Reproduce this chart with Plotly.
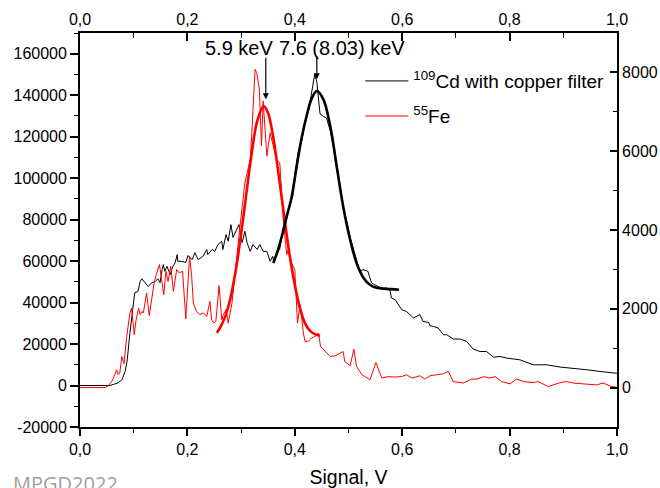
import plotly.graph_objects as go

# ---------------- data ----------------
cd_x = [0.000, 0.047, 0.056, 0.071, 0.078, 0.084, 0.088, 0.093, 0.097, 0.099, 0.102, 0.108,
        0.112, 0.115, 0.121, 0.127, 0.134, 0.140, 0.145, 0.149, 0.153, 0.155, 0.158, 0.162,
        0.168, 0.173, 0.177, 0.181, 0.182, 0.190, 0.197, 0.201, 0.209, 0.214, 0.220, 0.229,
        0.236, 0.238, 0.246, 0.251, 0.257, 0.264, 0.266, 0.272, 0.276, 0.281, 0.285, 0.292,
        0.296, 0.302, 0.307, 0.311, 0.317, 0.322, 0.330, 0.335, 0.341, 0.348, 0.354, 0.359,
        0.361, 0.366, 0.372, 0.379, 0.385, 0.391, 0.396, 0.401, 0.407, 0.413, 0.420, 0.426,
        0.432, 0.437, 0.441, 0.447, 0.452, 0.459, 0.466, 0.472, 0.478, 0.484, 0.490, 0.497,
        0.503, 0.509, 0.515, 0.521, 0.527, 0.536, 0.543, 0.549, 0.557, 0.565, 0.571, 0.577,
        0.580, 0.587, 0.599, 0.608, 0.621, 0.633, 0.639, 0.649, 0.652, 0.658, 0.667, 0.677,
        0.683, 0.695, 0.708, 0.720, 0.732, 0.745, 0.757, 0.770, 0.782, 0.795, 0.819, 0.844,
        0.869, 0.894, 0.919, 0.944, 0.968, 0.993, 1.000]
cd_y = [0, 0, 0, 1300, 2750, 6800, 12400, 25500, 35100, 40600, 44800, 45400,
        50200, 51500, 49600, 47800, 49600, 50200, 51500, 49600, 55900, 58300, 55100, 57500,
        53500, 57500, 59100, 63100, 59900, 59900, 59300, 62700, 60700, 64100, 60700, 62300,
        65600, 63100, 65600, 64700, 68000, 69600, 65600, 72800, 69600, 77600, 71400, 75200,
        77600, 68900, 74400, 68900, 64700, 68000, 65600, 68000, 64700, 64700, 59900, 62300,
        59100, 63500, 66000, 76500, 80500, 88100, 91000, 103000, 113500, 118000, 128500, 133000,
        143500, 150000, 146500, 131000, 130000, 129000, 123000, 115000, 104000, 97000, 85500, 79000,
        71500, 65500, 60500, 55000, 55900, 55100, 49500, 48600, 47500, 47000, 47000, 46200,
        42200, 41400, 36600, 35700, 32600, 34200, 30900, 30400, 28800, 28500, 27700, 24500,
        24500, 22400, 22400, 21300, 17600, 16400, 16400, 13700, 14000, 13200, 12400, 10000,
        10000, 8900, 8400, 7600, 6800, 6000, 5900]

fe_x = [0.000, 0.047, 0.053, 0.059, 0.065, 0.068, 0.071, 0.074, 0.078, 0.082, 0.087, 0.090,
        0.093, 0.096, 0.101, 0.104, 0.109, 0.112, 0.115, 0.118, 0.124, 0.129, 0.134, 0.138,
        0.143, 0.148, 0.152, 0.156, 0.160, 0.164, 0.169, 0.174, 0.180, 0.185, 0.191, 0.197,
        0.204, 0.208, 0.211, 0.217, 0.223, 0.230, 0.236, 0.242, 0.245, 0.249, 0.253, 0.259,
        0.264, 0.267, 0.272, 0.276, 0.283, 0.289, 0.295, 0.299, 0.307, 0.317, 0.320, 0.326,
        0.329, 0.334, 0.338, 0.341, 0.348, 0.354, 0.366, 0.369, 0.372, 0.379, 0.385, 0.388,
        0.394, 0.397, 0.400, 0.405, 0.410, 0.416, 0.419, 0.425, 0.431, 0.438, 0.444, 0.448,
        0.466, 0.475, 0.484, 0.490, 0.493, 0.503, 0.510, 0.515, 0.525, 0.540, 0.551, 0.562,
        0.574, 0.587, 0.599, 0.608, 0.618, 0.633, 0.642, 0.652, 0.664, 0.677, 0.686, 0.695,
        0.714, 0.729, 0.739, 0.752, 0.762, 0.773, 0.785, 0.801, 0.813, 0.826, 0.844, 0.853,
        0.872, 0.894, 0.906, 0.919, 0.937, 0.962, 0.974, 0.990, 0.999]
fe_y = [-1000, -1000, 0, 1900, 5200, 7600, 5200, 6000, 14000, 10500, 23700, 28500,
        35000, 37400, 24500, 30900, 37400, 34200, 35700, 35000, 44600, 33700, 43000, 49500,
        54300, 58300, 51100, 43800, 55100, 50200, 57500, 45400, 55900, 54300, 55100, 32100,
        62200, 52700, 39800, 35700, 34200, 35000, 33300, 40600, 31700, 30100, 30900, 48200,
        31700, 34200, 36600, 30100, 39800, 55900, 72000, 79200, 97800, 109000, 121900, 152500,
        150900, 142900, 115500, 137200, 110600, 121900, 109000, 108200, 107400, 78500, 63100, 65600,
        59100, 57500, 55900, 30100, 39000, 25300, 21300, 21300, 22900, 23700, 25300, 18800,
        14000, 14300, 15700, 16400, 11600, 9500, 17600, 9200, 5200, 2800, 11100, 3600,
        4300, 4100, 4300, 5200, 3600, 4700, 3100, 4700, 5200, 5700, 6800, 1900,
        1200, 3100, 3100, 4300, 3600, 4300, 1900, 800, 3100, 1900, 1400, 1900,
        -500, 1400, 1900, 1200, 800, 300, 1200, -500, -800]

cd_fit_x = [0.360, 0.369, 0.379, 0.385, 0.394, 0.404, 0.413, 0.422, 0.431, 0.441, 0.453,
            0.466, 0.478, 0.490, 0.503, 0.515, 0.528, 0.540, 0.552, 0.571, 0.594]
cd_fit_y = [59100, 65600, 75200, 81600, 90700, 106600, 119700, 130000, 138100, 142000, 138100,
            125100, 105800, 86500, 70400, 59100, 51900, 48600, 47100, 46600, 46200]

fe_fit_x = [0.255, 0.260, 0.270, 0.280, 0.290, 0.300, 0.310, 0.320, 0.330, 0.342, 0.350,
            0.360, 0.370, 0.380, 0.390, 0.400, 0.410, 0.420, 0.430, 0.440, 0.447]
fe_fit_y = [25500, 27500, 33000, 42000, 55500, 73000, 93000, 112500, 127500, 134800, 131500,
            119500, 101500, 82000, 63500, 48500, 37000, 29500, 26000, 24500, 24000]

x_ticks = [0.0, 0.2, 0.4, 0.6, 0.8, 1.0]
x_labels = ["0,0", "0,2", "0,4", "0,6", "0,8", "1,0"]
yl_ticks = [-20000, 0, 20000, 40000, 60000, 80000, 100000, 120000, 140000, 160000]
yl_labels = ["-20000", "0", "20000", "40000", "60000", "80000", "100000", "120000", "140000", "160000"]
yr_ticks = [0, 2000, 4000, 6000, 8000]
yr_labels = ["0", "2000", "4000", "6000", "8000"]

FONT = "Liberation Sans, Arial, sans-serif"

fig = go.Figure()
fig.add_trace(go.Scatter(x=cd_x, y=cd_y, mode="lines", line=dict(color="black", width=1),
                         name="<sup>109</sup>Cd with copper filter", legend="legend"))
fig.add_trace(go.Scatter(x=fe_x, y=fe_y, mode="lines", line=dict(color="#ff0000", width=1),
                         name="<sup>55</sup>Fe", legend="legend2"))
fig.add_trace(go.Scatter(x=fe_fit_x, y=fe_fit_y, mode="lines", line=dict(color="#ff0000", width=2.6),
                         showlegend=False, line_shape="spline"))
fig.add_trace(go.Scatter(x=cd_fit_x, y=cd_fit_y, mode="lines", line=dict(color="black", width=2.6),
                         showlegend=False, line_shape="spline"))
# secondary axes (top / right)
fig.add_trace(go.Scatter(x=[None], y=[None], xaxis="x2", yaxis="y2", showlegend=False,
                         hoverinfo="skip"))

ax_common = dict(showline=True, linecolor="black", linewidth=1.8, showgrid=False,
                 zeroline=False, tickcolor="black", tickwidth=1.5, automargin=False,
                 tickfont=dict(family=FONT, size=16, color="black"))

fig.update_layout(
    width=660, height=488,
    margin=dict(l=80, r=43, t=33, b=61, autoexpand=False),
    paper_bgcolor="white", plot_bgcolor="white",
    font=dict(family=FONT, color="black"),
    xaxis=dict(range=[0, 1], tickmode="array", tickvals=x_ticks, ticktext=x_labels,
               ticks="outside", ticklen=7,
               minor=dict(tickmode="linear", tick0=0, dtick=0.1, ticks="outside", ticklen=4,
                          tickcolor="black", tickwidth=1.2),
               title=dict(text="Signal, V", font=dict(family=FONT, size=19.5), standoff=15),
               **ax_common),
    xaxis2=dict(range=[0, 1], overlaying="x", side="top", anchor="y", tickmode="array",
                tickvals=x_ticks, ticktext=x_labels, ticks="inside", ticklen=8,
                minor=dict(tickmode="linear", tick0=0, dtick=0.1, ticks="inside", ticklen=5,
                           tickcolor="black", tickwidth=1.2),
                **ax_common),
    yaxis=dict(range=[-20000, 170000], tickmode="array", tickvals=yl_ticks, ticktext=yl_labels,
               ticks="outside", ticklen=8,
               minor=dict(tickmode="linear", tick0=0, dtick=10000, ticks="outside", ticklen=4,
                          tickcolor="black", tickwidth=1.2),
               **ax_common),
    yaxis2=dict(range=[-1000, 9000], overlaying="y", side="right", anchor="x", tickmode="array",
                tickvals=yr_ticks, ticktext=yr_labels, ticks="inside", ticklen=7,
                minor=dict(tickmode="linear", tick0=0, dtick=1000, ticks="inside", ticklen=4,
                           tickcolor="black", tickwidth=1.2),
                **ax_common),
    legend=dict(x=0.522, y=0.878, xanchor="left", yanchor="middle", bgcolor="rgba(0,0,0,0)",
                font=dict(family=FONT, size=19, color="black"), borderwidth=0, itemwidth=43),
    legend2=dict(x=0.522, y=0.789, xanchor="left", yanchor="middle", bgcolor="rgba(0,0,0,0)",
                 font=dict(family=FONT, size=19, color="black"), borderwidth=0, itemwidth=43),
    showlegend=True,
)

# peak labels and arrows
fig.add_annotation(x=0.297, y=162900, text="5.9 keV", showarrow=False,
                   font=dict(family=FONT, size=20, color="black"))
fig.add_annotation(x=0.488, y=162900, text="7.6 (8.03) keV", showarrow=False,
                   font=dict(family=FONT, size=20, color="black"))
fig.add_annotation(x=0.346, y=138000, ax=0.346, ay=158800, axref="x", ayref="y", text="",
                   showarrow=True, arrowhead=2, arrowsize=1, arrowwidth=1.2, arrowcolor="black")
fig.add_annotation(x=0.441, y=147700, ax=0.441, ay=159800, axref="x", ayref="y", text="",
                   showarrow=True, arrowhead=2, arrowsize=1, arrowwidth=1.2, arrowcolor="black")
# slide footer
fig.add_annotation(xref="paper", yref="paper", x=-0.128, y=-0.105, xanchor="left", yanchor="top",
                   text="MPGD2022", showarrow=False,
                   font=dict(family="Open Sans", size=20, color="#a0a0a0"))

fig.write_html("out.html", config={"displayModeBar": False},
               post_script="document.body.style.margin='0';document.body.style.overflow='hidden';")
